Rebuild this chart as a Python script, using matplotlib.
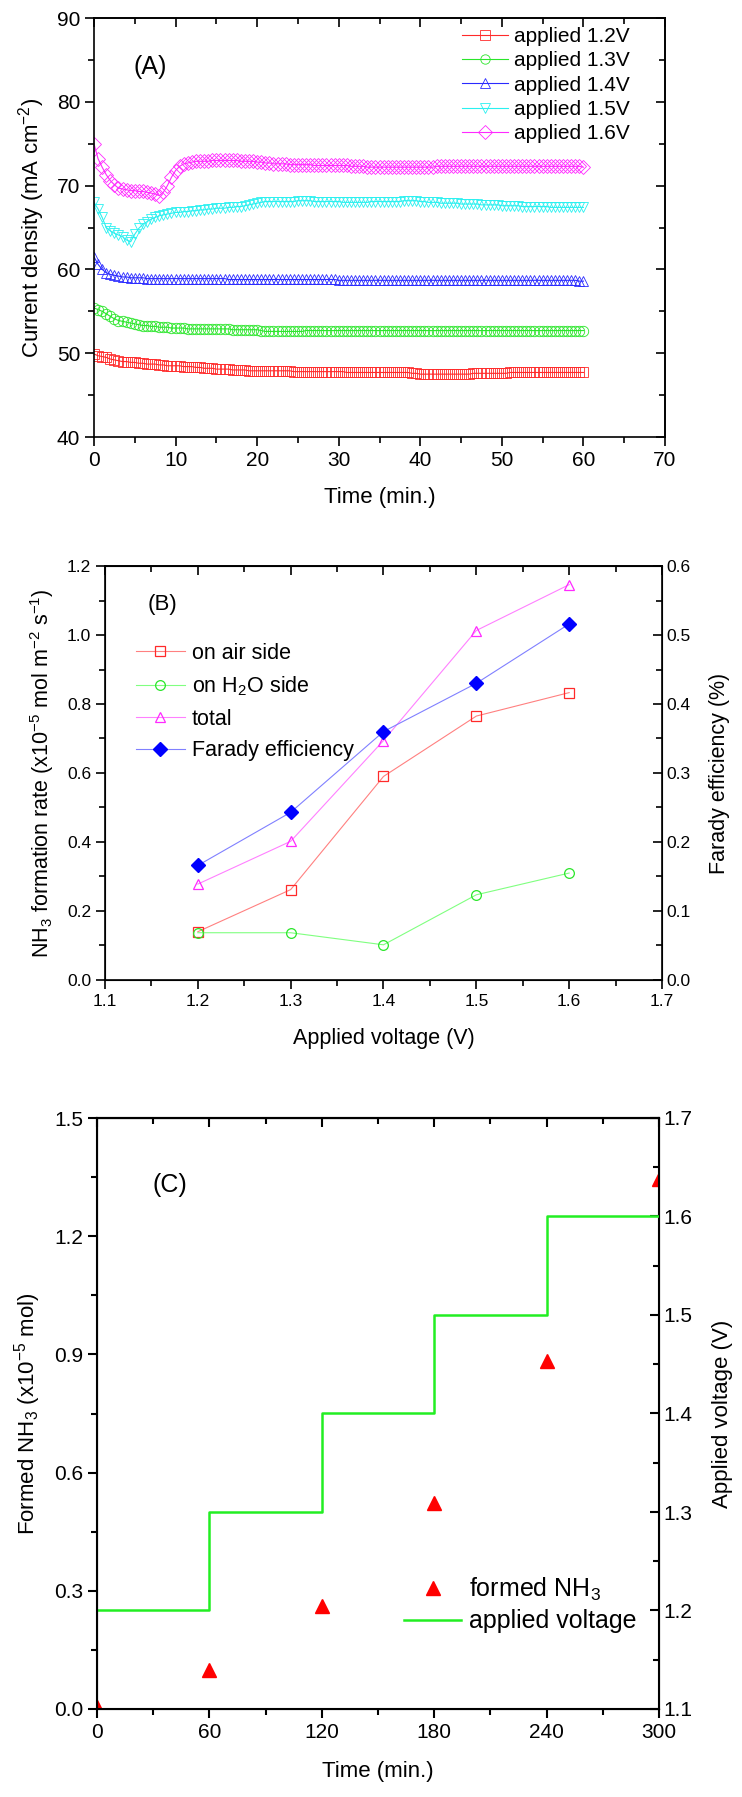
import numpy as np
import matplotlib
matplotlib.use("Agg")
import matplotlib.pyplot as plt
from matplotlib.ticker import MultipleLocator, FormatStrFormatter

plt.rcParams['font.family'] = ['Liberation Sans', 'DejaVu Sans']
plt.rcParams['mathtext.default'] = 'regular'

# ---------------- (A) current density vs time ----------------
time_a = np.arange(0, 60.25, 0.5)

cur_12 = [49.9, 49.7, 49.6, 49.5, 49.3, 49.2, 49.1, 49.0, 49.0, 48.9,
          48.9, 48.8, 48.8, 48.7, 48.7, 48.7, 48.6, 48.6, 48.5, 48.5,
          48.5, 48.5, 48.4, 48.4, 48.4, 48.3, 48.3, 48.2, 48.2, 48.2,
          48.1, 48.1, 48.1, 48.1, 48.0, 48.0, 48.0, 48.0, 47.9, 47.9,
          47.9, 47.9, 47.9, 47.9, 47.9, 47.9, 47.9, 47.9, 47.9, 47.8,
          47.8, 47.8, 47.8, 47.8, 47.8, 47.8, 47.8, 47.8, 47.8, 47.8,
          47.8, 47.8, 47.7, 47.7, 47.7, 47.7, 47.7, 47.7, 47.7, 47.7,
          47.7, 47.7, 47.7, 47.7, 47.7, 47.7, 47.7, 47.7, 47.6, 47.6,
          47.5, 47.5, 47.5, 47.5, 47.5, 47.5, 47.5, 47.5, 47.5, 47.5,
          47.5, 47.5, 47.5, 47.6, 47.6, 47.6, 47.6, 47.6, 47.6, 47.6,
          47.6, 47.6, 47.7, 47.7, 47.7, 47.7, 47.7, 47.7, 47.7, 47.7,
          47.7, 47.7, 47.7, 47.7, 47.7, 47.7, 47.7, 47.7, 47.7, 47.7,
          47.7]

cur_13 = [55.4, 55.2, 55.0, 54.7, 54.4, 54.1, 53.9, 53.8, 53.7, 53.6,
          53.5, 53.4, 53.3, 53.3, 53.2, 53.2, 53.1, 53.1, 53.1, 53.0,
          53.0, 53.0, 53.0, 52.9, 52.9, 52.9, 52.9, 52.9, 52.9, 52.9,
          52.9, 52.9, 52.9, 52.9, 52.8, 52.8, 52.8, 52.8, 52.8, 52.8,
          52.8, 52.7, 52.6, 52.6, 52.6, 52.6, 52.6, 52.6, 52.6, 52.6,
          52.6, 52.6, 52.7, 52.7, 52.7, 52.7, 52.7, 52.7, 52.7, 52.7,
          52.7, 52.7, 52.7, 52.7, 52.7, 52.7, 52.7, 52.7, 52.7, 52.7,
          52.7, 52.7, 52.7, 52.7, 52.7, 52.7, 52.7, 52.7, 52.7, 52.7,
          52.7, 52.7, 52.7, 52.7, 52.7, 52.7, 52.7, 52.7, 52.7, 52.7,
          52.7, 52.7, 52.7, 52.7, 52.7, 52.7, 52.7, 52.7, 52.7, 52.7,
          52.7, 52.7, 52.7, 52.7, 52.7, 52.7, 52.7, 52.7, 52.7, 52.7,
          52.7, 52.7, 52.7, 52.7, 52.7, 52.7, 52.7, 52.7, 52.7, 52.7,
          52.7]

cur_14 = [61.5, 60.6, 60.0, 59.6, 59.4, 59.3, 59.2, 59.1, 59.1, 59.0,
          59.0, 59.0, 59.0, 58.9, 58.9, 58.9, 58.9, 58.9, 58.9, 58.9,
          58.9, 58.9, 58.9, 58.9, 58.9, 58.9, 58.9, 58.9, 58.9, 58.9,
          58.9, 58.9, 58.9, 58.8, 58.8, 58.8, 58.8, 58.8, 58.8, 58.8,
          58.8, 58.8, 58.8, 58.8, 58.8, 58.8, 58.8, 58.8, 58.8, 58.8,
          58.8, 58.8, 58.8, 58.8, 58.8, 58.8, 58.8, 58.8, 58.8, 58.8,
          58.7, 58.7, 58.7, 58.7, 58.7, 58.7, 58.7, 58.7, 58.7, 58.7,
          58.7, 58.7, 58.7, 58.7, 58.7, 58.7, 58.7, 58.7, 58.7, 58.7,
          58.7, 58.7, 58.7, 58.7, 58.7, 58.7, 58.7, 58.7, 58.7, 58.7,
          58.7, 58.7, 58.7, 58.7, 58.7, 58.7, 58.7, 58.7, 58.7, 58.7,
          58.7, 58.7, 58.7, 58.7, 58.7, 58.7, 58.7, 58.7, 58.7, 58.7,
          58.7, 58.7, 58.7, 58.7, 58.7, 58.7, 58.7, 58.7, 58.7, 58.6,
          58.6]

cur_15 = [68.0, 67.2, 66.2, 65.0, 64.6, 64.3, 64.1, 63.9, 63.5, 63.3,
          64.2, 64.9, 65.4, 65.7, 66.0, 66.2, 66.4, 66.5, 66.6, 66.7,
          66.8, 66.8, 66.9, 66.9, 67.0, 67.0, 67.1, 67.1, 67.2, 67.2,
          67.3, 67.3, 67.3, 67.4, 67.4, 67.5, 67.5, 67.6, 67.7, 67.8,
          67.9, 68.0, 68.1, 68.1, 68.1, 68.1, 68.1, 68.1, 68.1, 68.1,
          68.2, 68.2, 68.2, 68.2, 68.1, 68.1, 68.1, 68.1, 68.1, 68.1,
          68.1, 68.0, 68.0, 68.0, 68.0, 68.0, 68.0, 68.0, 68.1, 68.1,
          68.1, 68.1, 68.1, 68.1, 68.1, 68.1, 68.2, 68.2, 68.2, 68.2,
          68.1, 68.1, 68.0, 68.0, 68.0, 67.9, 67.9, 67.9, 67.9, 67.9,
          67.8, 67.8, 67.8, 67.8, 67.8, 67.7, 67.7, 67.7, 67.7, 67.7,
          67.6, 67.6, 67.6, 67.6, 67.6, 67.5, 67.5, 67.5, 67.5, 67.5,
          67.5, 67.5, 67.4, 67.4, 67.4, 67.4, 67.4, 67.4, 67.4, 67.4,
          67.4]

cur_16 = [75.0, 73.2, 72.2, 71.3, 70.6, 70.1, 69.7, 69.6, 69.5, 69.4,
          69.4, 69.3, 69.3, 69.2, 69.1, 69.0, 68.8, 69.2, 70.0, 71.0,
          71.8, 72.3, 72.6, 72.7, 72.8, 72.9, 72.9, 72.9, 72.9, 73.0,
          73.0, 73.0, 73.0, 73.0, 73.0, 73.0, 72.9, 72.9, 72.9, 72.9,
          72.8, 72.8, 72.7, 72.7, 72.6, 72.6, 72.6, 72.6, 72.5, 72.5,
          72.5, 72.5, 72.5, 72.5, 72.4, 72.4, 72.4, 72.4, 72.4, 72.4,
          72.4, 72.4, 72.4, 72.3, 72.3, 72.3, 72.3, 72.2, 72.2, 72.2,
          72.2, 72.2, 72.2, 72.2, 72.2, 72.2, 72.2, 72.2, 72.2, 72.2,
          72.2, 72.2, 72.2, 72.2, 72.3, 72.3, 72.3, 72.3, 72.3, 72.3,
          72.3, 72.3, 72.3, 72.3, 72.3, 72.3, 72.3, 72.3, 72.3, 72.3,
          72.3, 72.3, 72.3, 72.3, 72.3, 72.3, 72.3, 72.3, 72.3, 72.3,
          72.3, 72.3, 72.3, 72.3, 72.3, 72.3, 72.3, 72.3, 72.3, 72.3,
          72.2]

labels_a = ['applied 1.2V', 'applied 1.3V', 'applied 1.4V', 'applied 1.5V', 'applied 1.6V']
colors_a = ['#ff2a2a', '#2ae62a', '#2a2aff', '#2af0f0', '#ff2aff']
markers_a = ['s', 'o', '^', 'v', 'D']

# ---------------- (B) formation rate vs voltage ----------------
volt_b = [1.2, 1.3, 1.4, 1.5, 1.6]
rate_air = [0.14, 0.262, 0.59, 0.765, 0.833]
rate_h2o = [0.137, 0.137, 0.102, 0.247, 0.31]
rate_total = [0.278, 0.402, 0.694, 1.013, 1.146]
faraday = [0.166, 0.243, 0.36, 0.43, 0.516]

# ---------------- (C) formed NH3 vs time ----------------
time_c = [0, 60, 120, 180, 240, 300]
nh3_formed = [0.005, 0.099, 0.261, 0.524, 0.884, 1.345]
volt_c = [1.2, 1.3, 1.4, 1.5, 1.6, 1.6]


W, H = 742, 1797
fig = plt.figure(figsize=(W / 100, H / 100), dpi=100)


def rect(l, t, r, b):
  return [l / W, 1 - b / H, (r - l) / W, (b - t) / H]


def style(ax, lw, xmaj, xmin, ymaj, ymin, tsize, right_sec=True):
  for s in ax.spines.values():
    s.set_linewidth(lw)
  ax.xaxis.set_major_locator(MultipleLocator(xmaj))
  ax.xaxis.set_minor_locator(MultipleLocator(xmin))
  ax.yaxis.set_major_locator(MultipleLocator(ymaj))
  ax.yaxis.set_minor_locator(MultipleLocator(ymin))
  ax.tick_params(which='both', direction='out', width=lw, labelsize=tsize, top=False, right=False)
  ax.tick_params(which='major', length=6.5)
  ax.tick_params(which='minor', length=4)
  top = ax.secondary_xaxis('top')
  top.xaxis.set_major_locator(MultipleLocator(xmaj))
  top.xaxis.set_minor_locator(MultipleLocator(xmin))
  top.tick_params(which='both', direction='in', width=lw, labeltop=False)
  top.tick_params(which='major', length=6.5)
  top.tick_params(which='minor', length=4)
  top.spines['top'].set_linewidth(lw)
  if right_sec:
    rgt = ax.secondary_yaxis('right')
    rgt.yaxis.set_major_locator(MultipleLocator(ymaj))
    rgt.yaxis.set_minor_locator(MultipleLocator(ymin))
    rgt.tick_params(which='both', direction='in', width=lw, labelright=False)
    rgt.tick_params(which='major', length=6.5)
    rgt.tick_params(which='minor', length=4)
    rgt.spines['right'].set_linewidth(lw)


# ---------- panel A ----------
ax_a = fig.add_axes(rect(94, 18, 665, 437))
for y, lab, c, m in zip([cur_12, cur_13, cur_14, cur_15, cur_16], labels_a, colors_a, markers_a):
  ax_a.plot(time_a, y, '-', marker=m, color=c, mfc='none', mec=c, ms=7.5, mew=0.6, lw=0.8, label=lab)
ax_a.set_xlim(0, 70)
ax_a.set_ylim(40, 90)
style(ax_a, 1.2, 10, 5, 10, 5, 15)
ax_a.set_xlabel('Time (min.)', fontsize=16, labelpad=12)
ax_a.set_ylabel('Current density (mA cm$^{-2}$)', fontsize=16, labelpad=7)
ax_a.text(0.098, 0.883, '(A)', transform=ax_a.transAxes, fontsize=18, ha='center', va='center')
ax_a.legend(loc='upper left', bbox_to_anchor=(0.644, 0.978), frameon=False, fontsize=15,
            handlelength=2.2, handletextpad=0.3, labelspacing=0.25, borderpad=0, borderaxespad=0,
            markerscale=0.9)

# ---------- panel B ----------
ax_b = fig.add_axes(rect(105, 566, 662, 980))
ax_b.plot(volt_b, rate_air, '-s', color='#ff8080', lw=0.8, mfc='none', mec='#ff2a2a', ms=7, mew=0.9, label='on air side')
ax_b.plot(volt_b, rate_h2o, '-o', color='#80ff80', lw=0.8, mfc='none', mec='#2ae62a', ms=7, mew=0.9, label='on H$_2$O side')
ax_b.plot(volt_b, rate_total, '-^', color='#ff80ff', lw=0.8, mfc='none', mec='#ff2aff', ms=7.5, mew=0.9, label='total')
ax_b.set_xlim(1.1, 1.7)
ax_b.set_ylim(0, 1.2)
style(ax_b, 1.2, 0.1, 0.05, 0.2, 0.1, 12.5, right_sec=False)
ax_b.yaxis.set_major_formatter(FormatStrFormatter('%.1f'))
ax_b.xaxis.set_major_formatter(FormatStrFormatter('%.1f'))
ax_b.set_xlabel('Applied voltage (V)', fontsize=15.5, labelpad=14)
ax_b.set_ylabel('NH$_3$ formation rate (x10$^{-5}$ mol m$^{-2}$ s$^{-1}$)', fontsize=15.5, labelpad=8)
ax_b.text(0.104, 0.906, '(B)', transform=ax_b.transAxes, fontsize=16, ha='center', va='center')

tw_b = ax_b.twinx()
tw_b.plot(volt_b, faraday, '-D', color='#8080ff', lw=0.8, mfc='#0000ff', mec='#0000ff', ms=7, label='Farady efficiency')
tw_b.set_ylim(0, 0.6)
tw_b.yaxis.set_major_locator(MultipleLocator(0.1))
tw_b.yaxis.set_minor_locator(MultipleLocator(0.05))
tw_b.yaxis.set_major_formatter(FormatStrFormatter('%.1f'))
tw_b.tick_params(which='both', direction='in', width=1.2, labelsize=12.5)
tw_b.tick_params(which='major', length=6.5)
tw_b.tick_params(which='minor', length=4)
tw_b.set_ylabel('Farady efficiency (%)', fontsize=15.5, labelpad=13)
h1, l1 = ax_b.get_legend_handles_labels()
h2, l2 = tw_b.get_legend_handles_labels()
tw_b.legend(h1 + h2, l1 + l2, loc='upper left', bbox_to_anchor=(0.055, 0.815), frameon=False, fontsize=15.5,
            handlelength=2.3, handletextpad=0.3, labelspacing=0.5, borderpad=0, borderaxespad=0)

# ---------- panel C ----------
ax_c = fig.add_axes(rect(97, 1118, 659, 1709))
ax_c.plot(time_c, nh3_formed, '^', color='#ff0000', ms=10, ls='none', label='formed NH$_3$')
ax_c.set_xlim(0, 300)
ax_c.set_ylim(0, 1.5)
style(ax_c, 1.5, 60, 30, 0.3, 0.15, 15, right_sec=False)
ax_c.yaxis.set_major_formatter(FormatStrFormatter('%.1f'))
ax_c.set_xlabel('Time (min.)', fontsize=16, labelpad=14)
ax_c.set_ylabel('Formed NH$_3$ (x10$^{-5}$ mol)', fontsize=16, labelpad=8)
ax_c.text(0.13, 0.887, '(C)', transform=ax_c.transAxes, fontsize=18, ha='center', va='center')

tw_c = ax_c.twinx()
tw_c.step(time_c, volt_c, where='post', color='#22ee22', lw=1.8, label='applied voltage')
tw_c.set_ylim(1.1, 1.7)
tw_c.yaxis.set_major_locator(MultipleLocator(0.1))
tw_c.yaxis.set_minor_locator(MultipleLocator(0.05))
tw_c.yaxis.set_major_formatter(FormatStrFormatter('%.1f'))
tw_c.tick_params(which='both', direction='in', width=1.5, labelsize=15)
tw_c.tick_params(which='major', length=6.5)
tw_c.tick_params(which='minor', length=4)
tw_c.set_ylabel('Applied voltage (V)', fontsize=16, labelpad=14)
h1, l1 = ax_c.get_legend_handles_labels()
h2, l2 = tw_c.get_legend_handles_labels()
tw_c.legend(h1 + h2, l1 + l2, loc='upper left', bbox_to_anchor=(0.546, 0.225), frameon=False, fontsize=18,
            handlelength=2.3, handletextpad=0.3, labelspacing=0.25, borderpad=0, borderaxespad=0)

fig.savefig('out.png', dpi=100)
